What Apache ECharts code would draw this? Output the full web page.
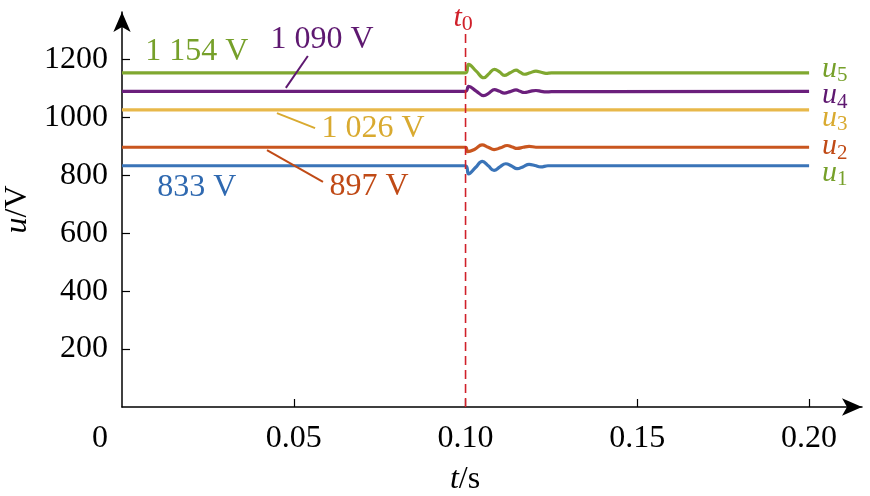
<!DOCTYPE html>
<html><head><meta charset="utf-8">
<script src="https://cdn.jsdelivr.net/npm/echarts@6/dist/echarts.min.js"></script>
<style>html,body{margin:0;padding:0;background:#fff}#c{width:870px;height:496px}</style>
</head><body><div id="c"></div>
<script>
// ---- data ----
const xTicks = [0.05, 0.10, 0.15, 0.20];
const xLabels = [0, 0.05, 0.10, 0.15, 0.20];
const yTicks = [200, 400, 600, 800, 1000, 1200];
const t0 = 0.10;
const dashTop = 1300;

const tU5 = [0, 0.1, 0.1009, 0.1031, 0.1053, 0.1069, 0.1084, 0.1099, 0.1113, 0.1130, 0.1147, 0.1159, 0.1171, 0.1188, 0.1205, 0.1220, 0.1234, 0.1250, 0.2];
const vU5 = [1154, 1154, 1183, 1160, 1137, 1152, 1166, 1157, 1145, 1154, 1163, 1156, 1149, 1154, 1160, 1156, 1152, 1154, 1154];
const tU4 = [0, 0.1, 0.1009, 0.1031, 0.1053, 0.1069, 0.1084, 0.1099, 0.1113, 0.1130, 0.1147, 0.1159, 0.1171, 0.1188, 0.1205, 0.1220, 0.1234, 0.1250, 0.2];
const vU4 = [1090, 1090, 1107, 1091, 1075, 1085, 1096, 1090, 1084, 1089, 1095, 1090, 1086, 1090, 1093, 1090, 1088, 1089, 1090];
const tU3 = [0, 0.2];
const vU3 = [1026, 1026];
const tU2 = [0, 0.1, 0.1006, 0.1027, 0.1048, 0.1066, 0.1083, 0.1102, 0.1121, 0.1136, 0.1150, 0.1168, 0.1185, 0.1205, 0.2];
const vU2 = [897, 897, 882, 890, 905, 897, 889, 895, 903, 898, 893, 897, 900, 897, 897];
const tU1 = [0, 0.1, 0.1009, 0.1029, 0.1049, 0.1066, 0.1083, 0.1100, 0.1117, 0.1134, 0.1150, 0.1168, 0.1185, 0.1202, 0.1219, 0.1240, 0.2];
const vU1 = [833, 833, 805, 827, 848, 833, 817, 829, 840, 832, 823, 830, 838, 834, 829, 833, 833];

const seriesNames = ['u5', 'u4', 'u3', 'u2', 'u1'];
const seriesSub = ['5', '4', '3', '2', '1'];
const annText = ['1 154 V', '1 090 V', '1 026 V', '897 V', '833 V'];
const annAt = [[0.0218, 1226], [0.0582, 1267], [0.0731, 960], [0.0719, 760], [0.0218, 756]];
const annLeader = [null, [[0.0541, 1212], [0.0477, 1102]], [[0.0451, 1015], [0.0562, 963]], [[0.0422, 887], [0.0585, 777]], null];

// ---- style ----
const FONT = '"Liberation Serif", "Times New Roman", serif';
const lineColors = ['#80A830', '#6B1F7C', '#E8B84A', '#C9561F', '#3A74B8'];
const textColors = ['#76A02A', '#5E1870', '#D9AA30', '#C04A16', '#2F69B0'];
const endLabelColors = ['#76A02A', '#5E1870', '#D9AA30', '#C04A16', '#76A02A'];
const endOffsets = [[5, -4], [5, 4], [5, 8], [5, -1], [5, 7]];
const RED = '#D0202A';

const tArr = [tU5, tU4, tU3, tU2, tU1];
const vArr = [vU5, vU4, vU3, vU2, vU1];

const chart = echarts.init(document.getElementById('c'), null, {renderer: 'canvas'});

const series = [];
seriesNames.forEach((n, i) => {
  const data = tArr[i].map((t, k) => [t, vArr[i][k]]);
  const s = {
    name: n, type: 'line', data, showSymbol: false, smooth: 0.45,
    lineStyle: {color: lineColors[i], width: 3.2},
    itemStyle: {color: lineColors[i]},
    z: 3,
    endLabel: {
      show: true,
      formatter: '{i|u}{s|' + seriesSub[i] + '}',
      offset: endOffsets[i],
      rich: {
        i: {fontFamily: FONT, fontStyle: 'italic', fontSize: 30, color: endLabelColors[i]},
        s: {fontFamily: FONT, fontSize: 21, color: endLabelColors[i], padding: [14, 0, 0, 0]}
      }
    }
  };
  if (annLeader[i]) {
    s.markLine = {
      silent: true, symbol: 'none', animation: false,
      label: {show: false},
      lineStyle: {color: textColors[i], width: 2, type: 'solid', opacity: 1},
      data: [[{coord: annLeader[i][0]}, {coord: annLeader[i][1]}]]
    };
  }
  series.push(s);
});

series.push({
  type: 'line', data: [[t0, 0], [t0, dashTop]], showSymbol: false,
  lineStyle: {color: RED, width: 1.6, type: [9, 5]}, z: 4, silent: true
});

series.push({
  type: 'scatter', symbolSize: 0, clip: false, silent: true, z: 5,
  itemStyle: {opacity: 1},
  data: annText.map((txt, i) => ({
    value: annAt[i], name: txt,
    label: {show: true, position: 'inside', formatter: txt, color: textColors[i], opacity: 1,
      fontFamily: FONT, fontSize: 32}
  }))
});
series.push({
  type: 'scatter', symbolSize: 0, clip: false, silent: true, z: 5,
  itemStyle: {opacity: 1},
  data: [{value: [0.0993, 1343], label: {show: true, position: 'inside', opacity: 1,
    formatter: '{i|t}{s|0}',
    rich: {
      i: {fontFamily: FONT, fontStyle: 'italic', fontSize: 30, color: RED},
      s: {fontFamily: FONT, fontSize: 22, color: RED, padding: [12, 0, 0, 0]}
    }}}]
});

chart.setOption({
  animation: false,
  backgroundColor: '#fff',
  grid: {left: 122, right: 8, top: 12, bottom: 89, containLabel: false, outerBoundsMode: 'none'},
  xAxis: {
    type: 'value', min: 0, max: 0.2154, interval: 0.05,
    name: '{i|t}/s', nameLocation: 'middle', nameGap: 57,
    nameTextStyle: {fontFamily: FONT, fontSize: 32, color: '#000', padding: [0, 54, 0, 0],
      rich: {i: {fontFamily: FONT, fontStyle: 'italic', fontSize: 32, color: '#000'}}},
    axisLine: {show: true, symbol: ['none', 'arrow'], symbolSize: [13, 20],
      lineStyle: {color: '#000', width: 1.5}},
    axisTick: {show: true, inside: true, length: 8, customValues: xTicks,
      lineStyle: {color: '#000', width: 1.2}},
    axisLabel: {customValues: xLabels, margin: 16, color: '#000', fontFamily: FONT, fontSize: 32,
      formatter: v => (Math.abs(v) < 1e-9 ? '{z|0}' : v.toFixed(2)),
      rich: {z: {fontFamily: FONT, fontSize: 32, color: '#000', padding: [0, 44, 0, 0]}}},
    splitLine: {show: false}
  },
  yAxis: {
    type: 'value', min: 0, max: 1364, interval: 200,
    name: '{i|u}/V', nameLocation: 'middle', nameGap: 86, nameRotate: 90,
    nameTextStyle: {fontFamily: FONT, fontSize: 32, color: '#000', padding: [0, 0, 0, 0],
      rich: {i: {fontFamily: FONT, fontStyle: 'italic', fontSize: 32, color: '#000'}}},
    axisLine: {show: true, symbol: ['none', 'arrow'], symbolSize: [13, 20],
      lineStyle: {color: '#000', width: 1.5}},
    axisTick: {show: true, inside: true, length: 8, customValues: yTicks,
      lineStyle: {color: '#000', width: 1.2}},
    axisLabel: {customValues: yTicks, margin: 14, color: '#000', fontFamily: FONT, fontSize: 32,
      formatter: v => String(v)},
    splitLine: {show: false}
  },
  series
});
</script></body></html>
